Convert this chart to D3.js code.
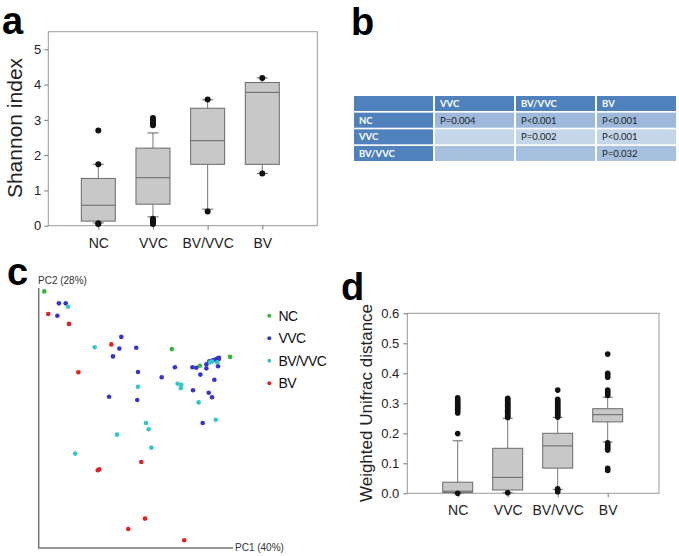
<!DOCTYPE html>
<html><head><meta charset="utf-8">
<script src="https://cdn.jsdelivr.net/npm/d3@7"></script>
<style>body{margin:0;background:#fff}svg{display:block;font-family:Arial,"Liberation Sans",sans-serif}</style>
</head><body>
<script>
// ---------- Panel a data ----------
const catsA = ["NC","VVC","BV/VVC","BV"];
const q1A  = [0.13, 0.61, 1.74, 1.74];
const medA = [0.58, 1.36, 2.41, 3.78];
const q3A  = [1.34, 2.20, 3.33, 4.06];
const loA  = [0.08, 0.25, 0.47, 1.48];
const hiA  = [1.74, 2.63, 3.57, 4.19];
const outA = [[2.70,1.74,0.07,0.05],[3.05,3.00,2.95,2.90,2.85,0.20,0.15,0.10,0.05],[3.58,0.40],[4.19,1.48]];
const ticksA = [0,1,2,3,4,5];

// ---------- Panel b data ----------
const colsB = ["VVC","BV/VVC","BV"];
const rowsB = ["NC","VVC","BV/VVC"];
const pB = [["P=0.004","P<0.001","P<0.001"],["","P=0.002","P<0.001"],["","","P=0.032"]];

// ---------- Panel c data (PCoA, relative units) ----------
const groupsC = ["NC","VVC","BV/VVC","BV"];
const pc1NC = [2.9, 68.5, 82.9, 98.5];
const pc2NC = [98.7, 76.5, 70.1, 73.5];
const pc1VVC = [10.4,13.9,9.6,42.5,41.5,50.2,38.2,51.1,63.3,70.1,79.1,81.1,83.2,86.3,86.3,90.4,92.3,79.4,87.5,89.2,36.2,50.7,84.4,87.8,89.6,90.2,91.3,92.1,92.8,92.6];
const pc2VVC = [94.1,94.1,89.3,81.2,76.7,77.0,73.7,67.7,65.7,69.5,69.5,69.3,66.7,69.1,70.7,64.7,69.9,60.7,59.7,58.0,58.2,56.9,48.1,71.8,72.2,72.3,72.6,73.0,73.2,72.6];
const pc1BVVVC = [15.1,28.8,51.1,71.5,73.4,73.1,82.3,91.1,55.2,56.6,40.3,58.0,18.8,88.2,91.9,89.2];
const pc2BVVVC = [92.8,77.2,62.0,63.2,62.8,61.5,56.0,49.3,48.1,45.7,43.6,38.6,36.3,71.4,71.4,71.7];
const pc1BV = [4.9,15.6,37.4,20.4,52.8,30.4,31.2,54.7,46.1,74.9];
const pc2BV = [90.0,86.2,78.3,67.6,33.1,29.9,30.3,11.3,7.3,3.0];
const colorsC = ["#33b833","#3535c8","#35c6c6","#e02222"];

// ---------- Panel d data ----------
const catsD = ["NC","VVC","BV/VVC","BV"];
const q1D  = [0.003, 0.011, 0.084, 0.238];
const medD = [0.007, 0.053, 0.158, 0.262];
const q3D  = [0.037, 0.150, 0.200, 0.282];
const loD  = [0.000, 0.002, 0.013, 0.171];
const hiD  = [0.175, 0.250, 0.253, 0.320];
const outD = [
  [0.318,0.312,0.306,0.300,0.295,0.290,0.285,0.280,0.274,0.268,0.199,0.000],
  [0.317,0.313,0.309,0.305,0.301,0.297,0.293,0.289,0.285,0.281,0.277,0.273,0.269,0.265,0.261,0.257,0.253,0.002],
  [0.344,0.313,0.308,0.303,0.298,0.293,0.288,0.283,0.278,0.273,0.268,0.263,0.258,0.254,0.005,0.010,0.015],
  [0.464,0.400,0.394,0.387,0.344,0.338,0.332,0.326,0.168,0.162,0.156,0.150,0.144,0.083,0.076]
];
const ticksD = [0,0.1,0.2,0.3,0.4,0.5,0.6];

const W = 679, H = 556;
const svg = d3.select("body").append("svg").attr("width", W).attr("height", H);

// panel letters
const letters = [["a",2,34],["b",351,35],["c",7,285],["d",341,300]];
svg.selectAll("text.letter").data(letters).join("text").attr("class","letter")
  .attr("x", d=>d[1]).attr("y", d=>d[2]).text(d=>d[0])
  .attr("font-size", 38).attr("font-weight", "bold").attr("fill", "#000");

function boxPanel(g, cats, q1, med, q3, lo, hi, outs, x, y, boxW, capW, r) {
  const grp = g.selectAll("g.box").data(cats).join("g").attr("class","box");
  grp.append("line").attr("x1", (d)=>x(d)).attr("x2",(d)=>x(d))
    .attr("y1",(d,i)=>y(hi[i])).attr("y2",(d,i)=>y(q3[i])).attr("stroke","#777");
  grp.append("line").attr("x1", (d)=>x(d)).attr("x2",(d)=>x(d))
    .attr("y1",(d,i)=>y(lo[i])).attr("y2",(d,i)=>y(q1[i])).attr("stroke","#777");
  grp.append("line").attr("x1",(d)=>x(d)-capW/2).attr("x2",(d)=>x(d)+capW/2)
    .attr("y1",(d,i)=>y(hi[i])).attr("y2",(d,i)=>y(hi[i])).attr("stroke","#666");
  grp.append("line").attr("x1",(d)=>x(d)-capW/2).attr("x2",(d)=>x(d)+capW/2)
    .attr("y1",(d,i)=>y(lo[i])).attr("y2",(d,i)=>y(lo[i])).attr("stroke","#666");
  grp.append("rect").attr("x",(d)=>x(d)-boxW/2).attr("width",boxW)
    .attr("y",(d,i)=>y(q3[i])).attr("height",(d,i)=>y(q1[i])-y(q3[i]))
    .attr("fill","#c8c8c8").attr("stroke","#6a6a6a").attr("stroke-width",1);
  grp.append("line").attr("x1",(d)=>x(d)-boxW/2).attr("x2",(d)=>x(d)+boxW/2)
    .attr("y1",(d,i)=>y(med[i])).attr("y2",(d,i)=>y(med[i])).attr("stroke","#666");
  grp.each(function(d,i){
    d3.select(this).selectAll("circle").data(outs[i]).join("circle")
      .attr("cx", x(d)).attr("cy", v=>y(v)).attr("r", r).attr("fill","#111");
  });
}

// ---------- Panel a ----------
{
  const g = svg.append("g");
  const x = d3.scalePoint().domain(catsA).range([98.3, 262.3]);
  const y = d3.scaleLinear().domain([0,5.5]).range([225.7, 31.7]);
  g.append("rect").attr("x",48.3).attr("y",31.7).attr("width",317.3-48.3).attr("height",225.7-31.7)
    .attr("fill","none").attr("stroke","#999");
  const ya = g.append("g").attr("transform","translate(48.3,0)")
    .call(d3.axisLeft(y).tickValues(ticksA).tickSize(4).tickPadding(3).tickFormat(d3.format("d")));
  ya.select(".domain").remove();
  ya.selectAll("line").attr("stroke","#777");
  ya.selectAll("text").attr("font-size",13).attr("fill","#222").attr("font-family","Arial,'Liberation Sans',sans-serif");
  const xa = g.append("g").attr("transform","translate(0,225.7)")
    .call(d3.axisBottom(x).tickSize(4).tickPadding(8));
  xa.select(".domain").remove();
  xa.selectAll("line").attr("stroke","#777");
  xa.selectAll("text").attr("font-size",14).attr("fill","#222").attr("font-family","Arial,'Liberation Sans',sans-serif");
  g.append("text").attr("transform","translate(22,128) rotate(-90)").attr("text-anchor","middle")
    .attr("font-size",21).attr("fill","#222").text("Shannon index");
  boxPanel(g, catsA, q1A, medA, q3A, loA, hiA, outA, x, y, 34, 11, 3);
}

// ---------- Panel b ----------
{
  const g = svg.append("g").attr("font-family","Lato,'Open Sans',sans-serif");
  const colX = d3.scaleBand().domain(["", ...colsB]).range([354, 676]).paddingInner(0.025);
  const rowY = d3.scaleBand().domain(["", ...rowsB]).range([96, 161]).paddingInner(0.1);
  const dark = "#4f81bd";
  const rowFill = ["#9db8da","#c6d6ea","#a7c0df"];
  g.selectAll("rect.h").data(["", ...colsB]).join("rect").attr("class","h")
    .attr("x", d=>colX(d)).attr("y", rowY("")).attr("width", colX.bandwidth()).attr("height", rowY.bandwidth())
    .attr("fill", dark);
  g.selectAll("text.h").data(colsB).join("text").attr("class","h")
    .attr("x", d=>colX(d)+5).attr("y", rowY("")+rowY.bandwidth()/2+3.5).text(d=>d)
    .attr("font-size",9.5).attr("font-weight","bold").attr("fill","#fff");
  rowsB.forEach((r,i)=>{
    g.append("rect").attr("x", colX("")).attr("y", rowY(r)).attr("width", colX.bandwidth()).attr("height", rowY.bandwidth()).attr("fill", dark);
    g.append("text").attr("x", colX("")+5).attr("y", rowY(r)+rowY.bandwidth()/2+3.5).text(r)
      .attr("font-size",9.5).attr("font-weight","bold").attr("fill","#fff");
    colsB.forEach((c,j)=>{
      g.append("rect").attr("x", colX(c)).attr("y", rowY(r)).attr("width", colX.bandwidth()).attr("height", rowY.bandwidth()).attr("fill", rowFill[i]);
      g.append("text").attr("x", colX(c)+5).attr("y", rowY(r)+rowY.bandwidth()/2+3.5).text(pB[i][j])
        .attr("font-size",9.5).attr("fill","#222");
    });
  });
}

// ---------- Panel c ----------
{
  const g = svg.append("g");
  const x = d3.scaleLinear().domain([0,100]).range([38.7, 233]);
  const y = d3.scaleLinear().domain([0,100]).range([548, 288]);
  g.append("path").attr("d", `M${x(0)},${y(100)}V${y(0)}H${x(100)}`).attr("fill","none").attr("stroke","#777").attr("stroke-width",1.5);
  g.append("text").attr("x", 38).attr("y", 284).attr("font-size",10).attr("fill","#333").text("PC2 (28%)");
  g.append("text").attr("x", 235).attr("y", 551).attr("font-size",10).attr("fill","#333").text("PC1 (40%)");
  const sets = [[pc1NC,pc2NC],[pc1VVC,pc2VVC],[pc1BVVVC,pc2BVVVC],[pc1BV,pc2BV]];
  sets.forEach((s,k)=>{
    g.append("g").selectAll("circle").data(s[0]).join("circle")
      .attr("cx", v=>x(v)).attr("cy", (v,i)=>y(s[1][i])).attr("r", 2.3).attr("fill", colorsC[k]);
  });
  const ly = d3.scalePoint().domain(groupsC).range([315.7, 383.3]);
  g.selectAll("circle.leg").data(groupsC).join("circle").attr("class","leg")
    .attr("cx", 269.3).attr("cy", d=>ly(d)).attr("r", 2).attr("fill", (d,i)=>colorsC[i]);
  g.selectAll("text.leg").data(groupsC).join("text").attr("class","leg")
    .attr("x", 278.5).attr("y", d=>ly(d)+5).text(d=>d)
    .attr("font-size",14).attr("letter-spacing",-0.6).attr("fill","#111");
}

// ---------- Panel d ----------
{
  const g = svg.append("g");
  const x = d3.scalePoint().domain(catsD).range([457.7, 607.7]);
  const y = d3.scaleLinear().domain([0,0.6]).range([493.3, 313.3]);
  g.append("rect").attr("x",407.3).attr("y",313.3).attr("width",659-407.3).attr("height",493.3-313.3)
    .attr("fill","none").attr("stroke","#999");
  const ya = g.append("g").attr("transform","translate(407.3,0)")
    .call(d3.axisLeft(y).tickValues(ticksD).tickSize(4).tickPadding(4).tickFormat(d3.format(".1f")));
  ya.select(".domain").remove();
  ya.selectAll("line").attr("stroke","#777");
  ya.selectAll("text").attr("font-size",13).attr("fill","#222").attr("font-family","Arial,'Liberation Sans',sans-serif");
  const xa = g.append("g").attr("transform","translate(0,493.3)")
    .call(d3.axisBottom(x).tickSize(4).tickPadding(8));
  xa.select(".domain").remove();
  xa.selectAll("line").attr("stroke","#777");
  xa.selectAll("text").attr("font-size",14).attr("fill","#222").attr("font-family","Arial,'Liberation Sans',sans-serif");
  g.append("text").attr("transform","translate(372,403) rotate(-90)").attr("text-anchor","middle")
    .attr("font-size",17).attr("fill","#222").text("Weighted Unifrac distance");
  boxPanel(g, catsD, q1D, medD, q3D, loD, hiD, outD, x, y, 30, 10, 2.8);
}
</script>
</body></html>
